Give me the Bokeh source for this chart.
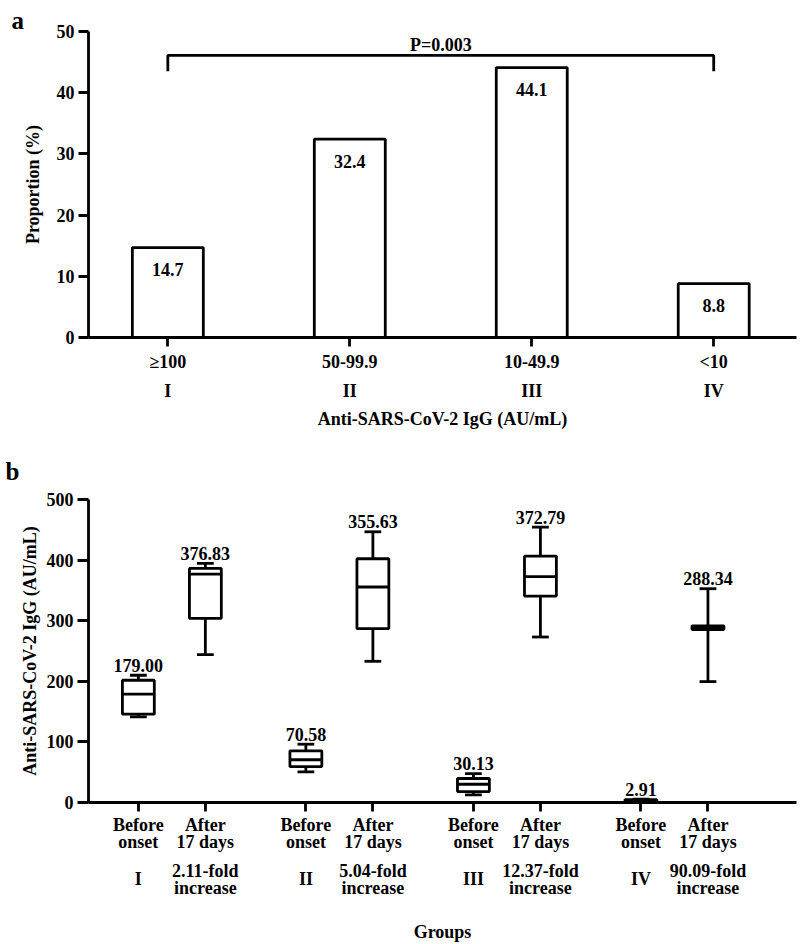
from bokeh.plotting import figure
from bokeh.models import Range1d, LinearAxis, FixedTicker
from bokeh.layouts import column
from bokeh.embed import file_html
from bokeh.resources import INLINE
from bokeh.core.properties import value

FONT = "Liberation Serif"
FS = "18px"

# ---------------- Panel a data ----------------
a_ranges = ["≥100", "50-99.9", "10-49.9", "<10"]
a_groups = ["I", "II", "III", "IV"]
a_props = [14.7, 32.4, 44.1, 8.8]
a_ylabel = "Proportion (%)"
a_xlabel = "Anti-SARS-CoV-2 IgG (AU/mL)"
a_yticks = [0, 10, 20, 30, 40, 50]
a_pvalue = "P=0.003"
a_bracket_groups = [0, 3]
a_bracket_top = 46.1
a_bracket_leg = 43.5

# ---------------- Panel b data ----------------
b_groups = ["I", "II", "III", "IV"]
b_fold = ["2.11-fold\nincrease", "5.04-fold\nincrease", "12.37-fold\nincrease", "90.09-fold\nincrease"]
b_times = ["Before\nonset", "After\n17 days"]
b_low = [141.4, 244.0, 50.6, 233.0, 12.7, 273.1, 0.3, 199.5]
b_q1 = [145.7, 303.9, 59.3, 286.8, 18.1, 340.7, 1.2, 285.5]
b_med = [179.00, 376.83, 70.58, 355.63, 30.13, 372.79, 2.91, 288.34]
b_q3 = [201.7, 386.3, 85.2, 402.2, 39.6, 406.6, 4.8, 291.5]
b_high = [210.0, 394.6, 96.2, 446.7, 47.8, 454.4, 5.5, 352.8]
b_ylabel = "Anti-SARS-CoV-2 IgG (AU/mL)"
b_xlabel = "Groups"
b_yticks = [0, 100, 200, 300, 400, 500]

LW = 2.8


def style_axis(ax):
    ax.axis_line_width = LW
    ax.major_tick_line_width = LW
    ax.major_tick_in = 0
    ax.minor_tick_line_color = None
    ax.major_label_text_font = FONT
    ax.major_label_text_font_style = "bold"
    ax.major_label_text_font_size = FS
    ax.major_label_text_color = "black"
    ax.axis_label_text_font = FONT
    ax.axis_label_text_font_style = "bold"
    ax.axis_label_text_font_size = FS
    ax.axis_label_text_color = "black"


def bare_axis(ax):
    style_axis(ax)
    ax.axis_line_color = None
    ax.major_tick_line_color = None
    ax.major_tick_out = 0


def style_title(p, txt, offset, standoff, valign):
    p.title.text = txt
    p.title.align = "left"
    p.title.vertical_align = valign
    p.title.offset = offset
    p.title.standoff = standoff
    p.title.text_font = FONT
    p.title.text_font_style = "bold"
    p.title.text_font_size = "25px"
    p.title.text_color = "black"


# ================= Panel a =================
xa = list(range(len(a_props)))
pa = figure(width=800, height=440, output_backend="svg", toolbar_location=None,
            x_range=Range1d(-0.436, -0.436 + 714 / 183.5), y_range=Range1d(0, 50),
            min_border_left=82, min_border_right=4, min_border_top=31, min_border_bottom=103)
pa.grid.visible = False
pa.outline_line_color = None
style_title(pa, "a", -77, -8, "top")

pa.vbar(x=xa, top=a_props, bottom=0, width=0.39, fill_color="white",
        line_color="black", line_width=LW)
pa.text(x=xa, y=a_props, text=[f"{v:.1f}" for v in a_props], text_align="center",
        text_baseline="alphabetic", y_offset=22, text_font=value(FONT),
        text_font_style="bold", text_font_size=FS, text_color="black")

bx = [a_bracket_groups[0], a_bracket_groups[0], a_bracket_groups[1], a_bracket_groups[1]]
by = [a_bracket_leg, a_bracket_top, a_bracket_top, a_bracket_leg]
pa.line(bx, by, line_color="black", line_width=LW)
pa.text(x=[sum(a_bracket_groups) / 2], y=[a_bracket_top], text=[a_pvalue], text_align="center",
        text_baseline="alphabetic", y_offset=-10, text_font=value(FONT),
        text_font_style="bold", text_font_size=FS, text_color="black")

ax_a1 = pa.xaxis[0]
ax_a1.ticker = FixedTicker(ticks=xa)
ax_a1.major_label_overrides = {i: s for i, s in enumerate(a_ranges)}
ax_a1.major_tick_out = 9
ax_a1.major_label_standoff = 5
style_axis(ax_a1)

ax_a2 = LinearAxis(ticker=FixedTicker(ticks=xa),
                   major_label_overrides={i: s for i, s in enumerate(a_groups)})
bare_axis(ax_a2)
ax_a2.major_label_standoff = 6
ax_a2.axis_label = a_xlabel
ax_a2.axis_label_standoff = 5
pa.add_layout(ax_a2, "below")

ay = pa.yaxis[0]
ay.ticker = FixedTicker(ticks=a_yticks)
ay.major_tick_out = 10
ay.major_label_standoff = 4
ay.axis_label = a_ylabel
ay.axis_label_standoff = 11
style_axis(ay)

# ================= Panel b =================
bxpos = [g * 2.5 + t for g in range(len(b_groups)) for t in range(len(b_times))]
before_x = bxpos[0::2]
after_x = bxpos[1::2]
bx_labels1 = {x: b_times[i % 2] for i, x in enumerate(bxpos)}

pb = figure(width=800, height=504, output_backend="svg", toolbar_location=None,
            x_range=Range1d(-0.744, -0.744 + 710 / 67.2), y_range=Range1d(0, 500),
            min_border_left=88, min_border_right=2, min_border_top=58, min_border_bottom=142)
pb.grid.visible = False
pb.outline_line_color = None
style_title(pb, "b", -83, 30, "bottom")

BW = 0.476
CW = 0.25
pb.segment(x0=bxpos, y0=b_low, x1=bxpos, y1=b_q1, line_color="black", line_width=LW)
pb.segment(x0=bxpos, y0=b_q3, x1=bxpos, y1=b_high, line_color="black", line_width=LW)
pb.segment(x0=[x - CW / 2 for x in bxpos], y0=b_low, x1=[x + CW / 2 for x in bxpos], y1=b_low,
           line_color="black", line_width=LW)
pb.segment(x0=[x - CW / 2 for x in bxpos], y0=b_high, x1=[x + CW / 2 for x in bxpos], y1=b_high,
           line_color="black", line_width=LW)
pb.vbar(x=bxpos, bottom=b_q1, top=b_q3, width=BW, fill_color="white",
        line_color="black", line_width=LW)
pb.segment(x0=[x - BW / 2 for x in bxpos], y0=b_med, x1=[x + BW / 2 for x in bxpos], y1=b_med,
           line_color="black", line_width=LW)
pb.text(x=bxpos, y=b_high, text=[f"{v:.2f}" for v in b_med], text_align="center",
        text_baseline="alphabetic", y_offset=-10, text_font=value(FONT),
        text_font_style="bold", text_font_size=FS, text_color="black")

bx1 = pb.xaxis[0]
bx1.ticker = FixedTicker(ticks=bxpos)
bx1.major_label_overrides = bx_labels1
bx1.major_tick_out = 9
bx1.major_label_standoff = 3
style_axis(bx1)
bx1.major_label_text_line_height = 0.85

bx2 = LinearAxis(ticker=FixedTicker(ticks=after_x),
                 major_label_overrides={x: b_fold[i] for i, x in enumerate(after_x)})
bare_axis(bx2)
bx2.major_label_standoff = 6
bx2.major_label_text_line_height = 0.85
pb.add_layout(bx2, "below")

bx3 = LinearAxis(ticker=FixedTicker(ticks=before_x),
                 major_label_overrides={x: b_groups[i] for i, x in enumerate(before_x)})
bare_axis(bx3)
bx3.major_label_standoff = -32
bx3.axis_label = b_xlabel
bx3.axis_label_standoff = 30
pb.add_layout(bx3, "below")

by_ax = pb.yaxis[0]
by_ax.ticker = FixedTicker(ticks=b_yticks)
by_ax.major_tick_out = 11
by_ax.major_label_standoff = 4
by_ax.axis_label = b_ylabel
by_ax.axis_label_standoff = 4
style_axis(by_ax)

layout = column(pa, pb)
open("out.html", "w").write(file_html(layout, INLINE))
